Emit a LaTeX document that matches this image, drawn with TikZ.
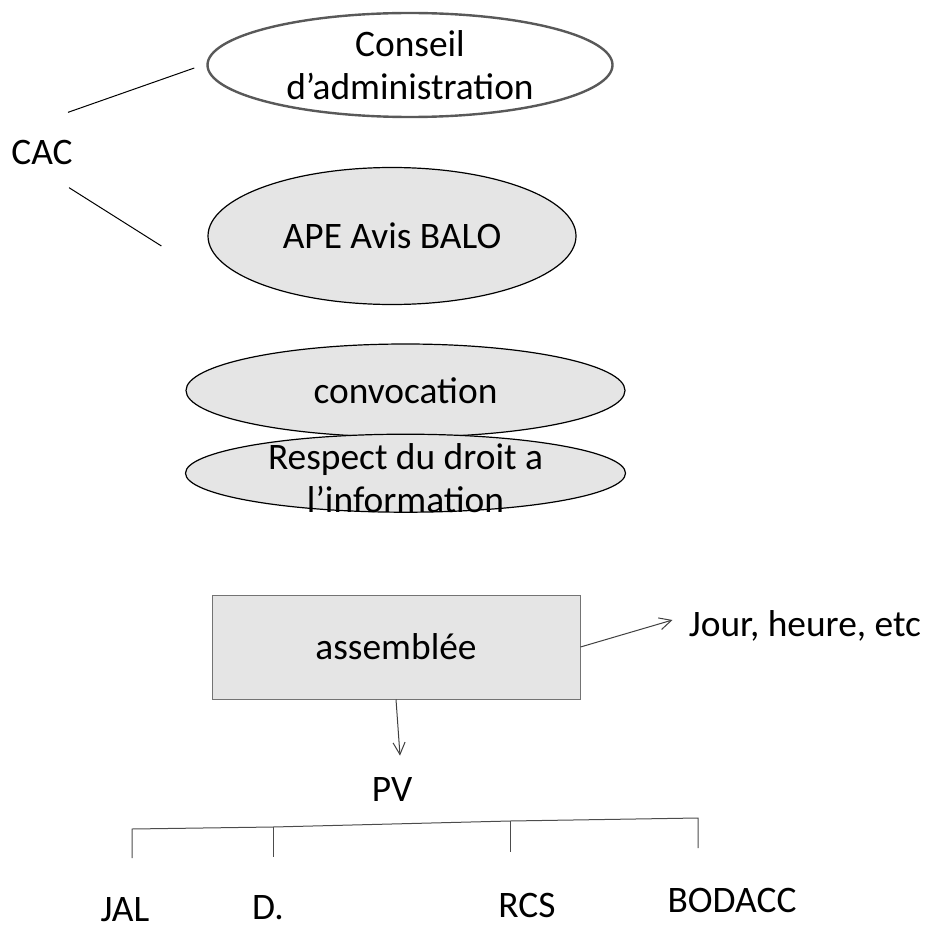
\documentclass[tikz,border=0pt]{standalone}
\usepackage{fontspec}
\setmainfont{Carlito}
\usetikzlibrary{positioning}
\usetikzlibrary{calc}
\usetikzlibrary{shapes.geometric}
\usetikzlibrary{arrows.meta}

\begin{document}
\begin{tikzpicture}[
    x=0.5pt, y=-0.5pt,
    font=\fontsize{18.7pt}{21.5pt}\selectfont,
    lbl/.style={inner sep=0pt},
    oval/.style={ellipse, draw=black, line width=0.6pt, fill=black!10, inner sep=0pt},
    link/.style={draw=black, line width=0.5pt},
    arr/.style={draw=black!75, line width=0.5pt, -{Straight Barb[length=6pt,width=6pt]}},
    tick/.style={draw=black!70, line width=0.5pt}
]
\useasboundingbox (0,0) rectangle (926,931);

\node[oval, fill=white, draw=black!65, line width=1.2pt, minimum width=202.5pt, minimum height=52pt, align=center] (conseil) at (410,65) {Conseil\\d’administration};
\node[lbl] (cac) at (42,152) {CAC};
\node[oval, minimum width=184pt, minimum height=68.5pt] (ape) at (392,236) {APE Avis BALO};
\node[oval, minimum width=219.5pt, minimum height=46.5pt] (convocation) at (405.5,390.5) {convocation};
\node[oval, minimum width=220pt, minimum height=39pt, below=-2pt of convocation,
      label={[lbl, align=center, yshift=-2.5pt]center:Respect du droit a\\l’information}] (respect) {};

\node[draw=black!55, line width=0.5pt, fill=black!10, minimum width=184pt, minimum height=52pt, inner sep=0pt] (assemblee) at (396,647) {assemblée};
\node[lbl, right=54pt of assemblee, yshift=10.5pt] (jour) {Jour, heure, etc};
\node[lbl] (pv) at (392,789) {PV};

\node[lbl] (jal) at (125,910) {JAL};
\node[lbl] (dd) at (268,908) {D.};
\node[lbl] (rcs) at (527,905) {RCS};
\node[lbl] (bodacc) at (732,900) {BODACC};

\draw[link] ($(cac.north east)+(-5,-27)$) -- ($(conseil.west)+(-12,3)$);
\draw[link] ($(cac.south east)+(-4,23)$) -- ($(ape.west)+(-46,10)$);

\draw[arr] (assemblee.east) -- ($(jour.west)+(-16,-6)$);
\draw[arr] (assemblee.south) -- ($(pv.north)+(8,-21)$);

% bracket under PV
\coordinate (b-jal) at (132,829);
\coordinate (b-d) at (273,827);
\coordinate (b-rcs) at (510,821);
\coordinate (b-bodacc) at (698,818);
\draw[tick] ($(b-jal)+(0,29)$) -- (b-jal) -- (b-d) -- (b-rcs) -- (b-bodacc) -- ++(0,30);
\draw[tick] (b-d) -- ++(0,30);
\draw[tick] (b-rcs) -- ++(0,31);

\end{tikzpicture}
\end{document}
